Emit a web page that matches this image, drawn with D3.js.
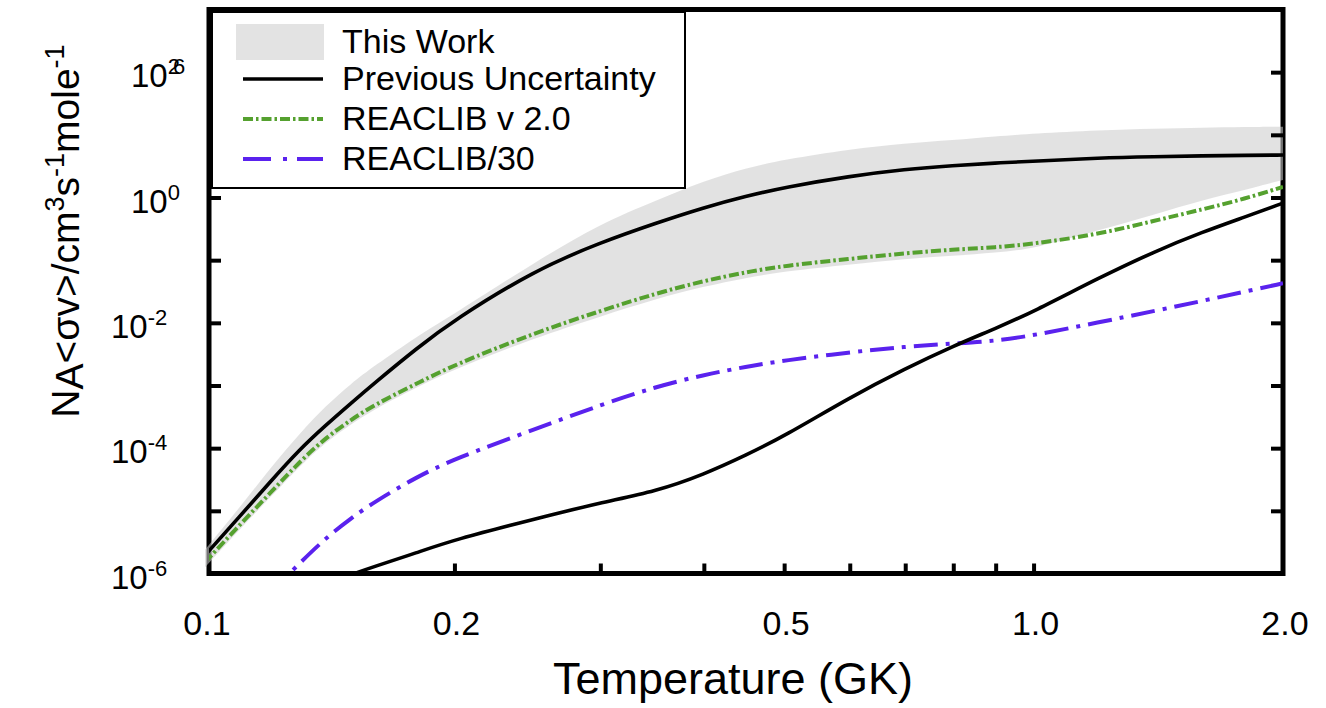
<!DOCTYPE html>
<html>
<head>
<meta charset="utf-8">
<script src="https://cdn.jsdelivr.net/npm/d3@7"></script>
<style>
  body { margin: 0; background: #fff; }
  svg { display: block; font-family: Arial, "Liberation Sans", Helvetica, sans-serif; }
</style>
</head>
<body>
<svg id="chart" width="1326" height="708"></svg>
<script>
// temperature grid (GK)
const temps = [0.1, 0.11, 0.12, 0.13, 0.14, 0.15, 0.16, 0.18, 0.2, 0.25, 0.3, 0.35, 0.4, 0.45, 0.5,
  0.6, 0.7, 0.8, 0.9, 1.0, 1.2, 1.4, 1.6, 1.8, 2.0];

// "This Work" band
const thisWorkHigh = [2.40e-6, 1.10e-5, 4.90e-5, 1.70e-4, 4.79e-4, 1.07e-3, 2.04e-3, 6.03e-3, 1.40e-2, 9.23e-2,
  0.385, 0.891, 1.84, 2.95, 4.03, 5.89, 7.33, 8.22, 9.44, 10.5, 11.9, 12.6, 13.0, 13.3, 13.5];
const thisWorkLow = [1.26e-6, 5.01e-6, 1.66e-5, 5.13e-5, 1.26e-4, 2.40e-4, 4.17e-4, 9.33e-4, 1.82e-3, 5.75e-3,
  1.26e-2, 2.40e-2, 3.80e-2, 5.25e-2, 6.61e-2, 8.51e-2, 0.105, 0.117, 0.132, 0.151, 0.302, 0.537, 0.912, 1.32, 1.91];

// previous uncertainty, upper and lower
const prevHigh = [1.95e-6, 8.0e-6, 2.95e-5, 9.5e-5, 2.35e-4, 5.2e-4, 1.08e-3, 3.9e-3, 1.12e-2, 6.92e-2,
  0.191, 0.389, 0.692, 1.05, 1.45, 2.19, 2.82, 3.24, 3.55, 3.80, 4.27, 4.47, 4.62, 4.70, 4.76];
const prevLowTemps = [0.15, 0.16, 0.18, 0.2, 0.25, 0.3, 0.35, 0.4, 0.45, 0.5, 0.6, 0.7, 0.8, 0.9, 1.0,
  1.2, 1.4, 1.6, 1.8, 2.0];
const prevLow = [9.55e-7, 1.29e-6, 2.14e-6, 3.47e-6, 7.41e-6, 1.35e-5, 2.04e-5, 3.80e-5, 7.76e-5, 1.55e-4,
  6.46e-4, 1.86e-3, 4.27e-3, 8.13e-3, 1.51e-2, 5.25e-2, 0.138, 0.282, 0.490, 0.813];

// REACLIB v2.0
const reaclib = [1.51e-6, 5.89e-6, 1.95e-5, 6.03e-5, 1.48e-4, 2.82e-4, 4.90e-4, 1.07e-3, 2.14e-3, 6.92e-3,
  1.55e-2, 2.95e-2, 4.68e-2, 6.46e-2, 8.13e-2, 0.105, 0.129, 0.148, 0.160, 0.182, 0.260, 0.427, 0.646, 0.955, 1.48];

// REACLIB/30
const reaclib30Temps = [0.12, 0.13, 0.14, 0.15, 0.16, 0.18, 0.2, 0.25, 0.3, 0.35, 0.4, 0.45, 0.5,
  0.6, 0.7, 0.8, 0.9, 1.0, 1.2, 1.4, 1.6, 1.8, 2.0];
const reaclib30 = [5.0e-7, 1.45e-6, 3.72e-6, 7.6e-6, 1.38e-5, 3.47e-5, 6.76e-5, 2.00e-4, 4.90e-4, 9.55e-4,
  1.48e-3, 2.00e-3, 2.51e-3, 3.39e-3, 4.17e-3, 4.68e-3, 5.13e-3, 6.31e-3, 1.02e-2, 1.55e-2, 2.24e-2, 3.16e-2, 4.27e-2];

// ticks and labels
const xTickMarks = [0.2, 0.3, 0.4, 0.5, 0.6, 0.7, 0.8, 0.9, 1.0];
const xLabelValues = [0.1, 0.2, 0.5, 1.0, 2.0];
const xLabelText = ['0.1', '0.2', '0.5', '1.0', '2.0'];
const yTickMarks = [1e-5, 1e-4, 1e-3, 1e-2, 1e-1, 1e0, 1e1, 1e2];
const yLabelValues = [1e2, 1e0, 1e-2, 1e-4, 1e-6];
const yLabelExp = ['2', '0', '-2', '-4', '-6'];
const yLabelOverprint = ['6', '', '', '', ''];

const legendNames = ['This Work', 'Previous Uncertainty', 'REACLIB v 2.0', 'REACLIB/30'];

const svg = d3.select('#chart');

const plotLeft = 209, plotRight = 1283, plotTop = 9.5, plotBottom = 573.5;

const x = d3.scaleLog().domain([0.1, 2.0]).range([205, plotRight]);
const y = d3.scaleLog().domain([1e-6, 1e3]).range([plotBottom, plotTop]);

const defs = svg.append('defs');
defs.append('clipPath').attr('id', 'plotClip')
  .append('rect')
  .attr('x', plotLeft).attr('y', plotTop)
  .attr('width', plotRight - plotLeft).attr('height', plotBottom - plotTop);
defs.append('clipPath').attr('id', 'bandClip')
  .append('rect')
  .attr('x', 204).attr('y', plotTop)
  .attr('width', plotRight + 3 - 204).attr('height', plotBottom + 3 - plotTop);

// frame
svg.append('rect')
  .attr('x', plotLeft).attr('y', plotTop)
  .attr('width', plotRight - plotLeft).attr('height', plotBottom - plotTop)
  .attr('fill', 'none')
  .attr('stroke', '#000')
  .attr('stroke-width', 5);

const zip = (ts, vs) => ts.map((t, i) => ({ t: t, v: vs[i] }));

const bandData = temps.map((t, i) => ({ t: t, lo: thisWorkLow[i], hi: thisWorkHigh[i] }));

const area = d3.area()
  .x(d => x(d.t))
  .y0(d => y(d.lo))
  .y1(d => y(d.hi))
  .curve(d3.curveBasis);

// band sits over the frame, semi-transparent (frame shows grey through it)
svg.append('path')
  .attr('clip-path', 'url(#bandClip)')
  .attr('d', area(bandData))
  .attr('fill', '#cccccc')
  .attr('fill-opacity', 0.56);

const line = d3.line()
  .x(d => x(d.t))
  .y(d => y(d.v))
  .curve(d3.curveBasis);

const lines = svg.append('g').attr('clip-path', 'url(#plotClip)');

lines.append('path')
  .attr('d', line(zip(reaclib30Temps, reaclib30)))
  .attr('fill', 'none')
  .attr('stroke', '#5a22ee')
  .attr('stroke-width', 4)
  .attr('stroke-dasharray', '24,8,4,8');

lines.append('path')
  .attr('d', line(zip(temps, reaclib)))
  .attr('fill', 'none')
  .attr('stroke', '#55a12f')
  .attr('stroke-width', 4)
  .attr('stroke-dasharray', '10,3,2.5,3');

lines.append('path')
  .attr('d', line(zip(temps, prevHigh)))
  .attr('fill', 'none')
  .attr('stroke', '#000')
  .attr('stroke-width', 3.6);

lines.append('path')
  .attr('d', line(zip(prevLowTemps, prevLow)))
  .attr('fill', 'none')
  .attr('stroke', '#000')
  .attr('stroke-width', 3.6);

// tick marks (inward)
const styleTicks = g => {
  g.select('.domain').remove();
  g.selectAll('.tick line').attr('stroke', '#000').attr('stroke-width', 4);
  g.selectAll('.tick text').remove();
};

svg.append('g')
  .attr('transform', `translate(${plotLeft},0)`)
  .call(d3.axisLeft(y).tickValues(yTickMarks).tickSize(-12).tickSizeOuter(0))
  .call(styleTicks);

svg.append('g')
  .attr('transform', `translate(${plotRight},0)`)
  .call(d3.axisRight(y).tickValues(yTickMarks).tickSize(-12).tickSizeOuter(0))
  .call(styleTicks);

svg.append('g')
  .attr('transform', `translate(0,${plotBottom})`)
  .call(d3.axisBottom(x).tickValues(xTickMarks).tickSize(-10).tickSizeOuter(0))
  .call(styleTicks);

// x tick labels
svg.append('g')
  .selectAll('text')
  .data(xLabelValues)
  .join('text')
  .attr('x', d => x(d) + 2)
  .attr('y', 635)
  .attr('text-anchor', 'middle')
  .attr('font-size', 34)
  .text((d, i) => xLabelText[i]);

// y tick labels: 10^n
const yLab = svg.append('g')
  .selectAll('text')
  .data(yLabelValues)
  .join('text')
  .attr('x', (d, i) => yLabelExp[i].startsWith('-') ? 111 : 131)
  .attr('y', d => y(d) + 15)
  .attr('font-size', 33);

yLab.append('tspan').text('10');
yLab.append('tspan')
  .attr('font-size', 22)
  .attr('dy', -13)
  .text((d, i) => yLabelExp[i]);
yLab.filter((d, i) => yLabelOverprint[i] !== '')
  .append('tspan')
  .attr('font-size', 22)
  .attr('dx', -7)
  .text(d => yLabelOverprint[yLabelValues.indexOf(d)]);

// axis titles
svg.append('text')
  .attr('x', 733)
  .attr('y', 694)
  .attr('text-anchor', 'middle')
  .attr('font-size', 45)
  .text('Temperature (GK)');

const yTitle = svg.append('text')
  .attr('transform', 'translate(79,231) rotate(-90)')
  .attr('text-anchor', 'middle')
  .attr('font-size', 39);
yTitle.append('tspan').text('N');
yTitle.append('tspan').attr('dy', 4).text('A');
yTitle.append('tspan').attr('dy', -4).text('<σv>/cm');
yTitle.append('tspan').attr('dy', -15).attr('font-size', 27).text('3');
yTitle.append('tspan').attr('dy', 15).text('s');
yTitle.append('tspan').attr('dy', -15).attr('font-size', 27).text('-1');
yTitle.append('tspan').attr('dy', 15).text('mole');
yTitle.append('tspan').attr('dy', -15).attr('font-size', 27).text('-1');

// legend
const legend = svg.append('g');
legend.append('rect')
  .attr('x', 212).attr('y', 12)
  .attr('width', 473).attr('height', 176)
  .attr('fill', '#fff')
  .attr('stroke', '#000')
  .attr('stroke-width', 2);

const rowY = [42, 79, 119, 159];

legend.append('rect')
  .attr('x', 236).attr('y', rowY[0] - 18)
  .attr('width', 88).attr('height', 36)
  .attr('fill', '#e3e3e3');

const legendStyles = [
  null,
  { stroke: '#000', dash: null },
  { stroke: '#55a12f', dash: '10,3,2.5,3' },
  { stroke: '#5a22ee', dash: '28,12,4,10' }
];

legendStyles.forEach((s, i) => {
  if (!s) return;
  legend.append('line')
    .attr('x1', 243).attr('x2', 323)
    .attr('y1', rowY[i]).attr('y2', rowY[i])
    .attr('stroke', s.stroke)
    .attr('stroke-width', i === 1 ? 3.6 : 4)
    .attr('stroke-dasharray', s.dash);
});

legend.selectAll('text.name')
  .data(legendNames)
  .join('text')
  .attr('class', 'name')
  .attr('x', 342)
  .attr('y', (d, i) => rowY[i] + 11)
  .attr('font-size', 34)
  .text(d => d);
</script>
</body>
</html>
